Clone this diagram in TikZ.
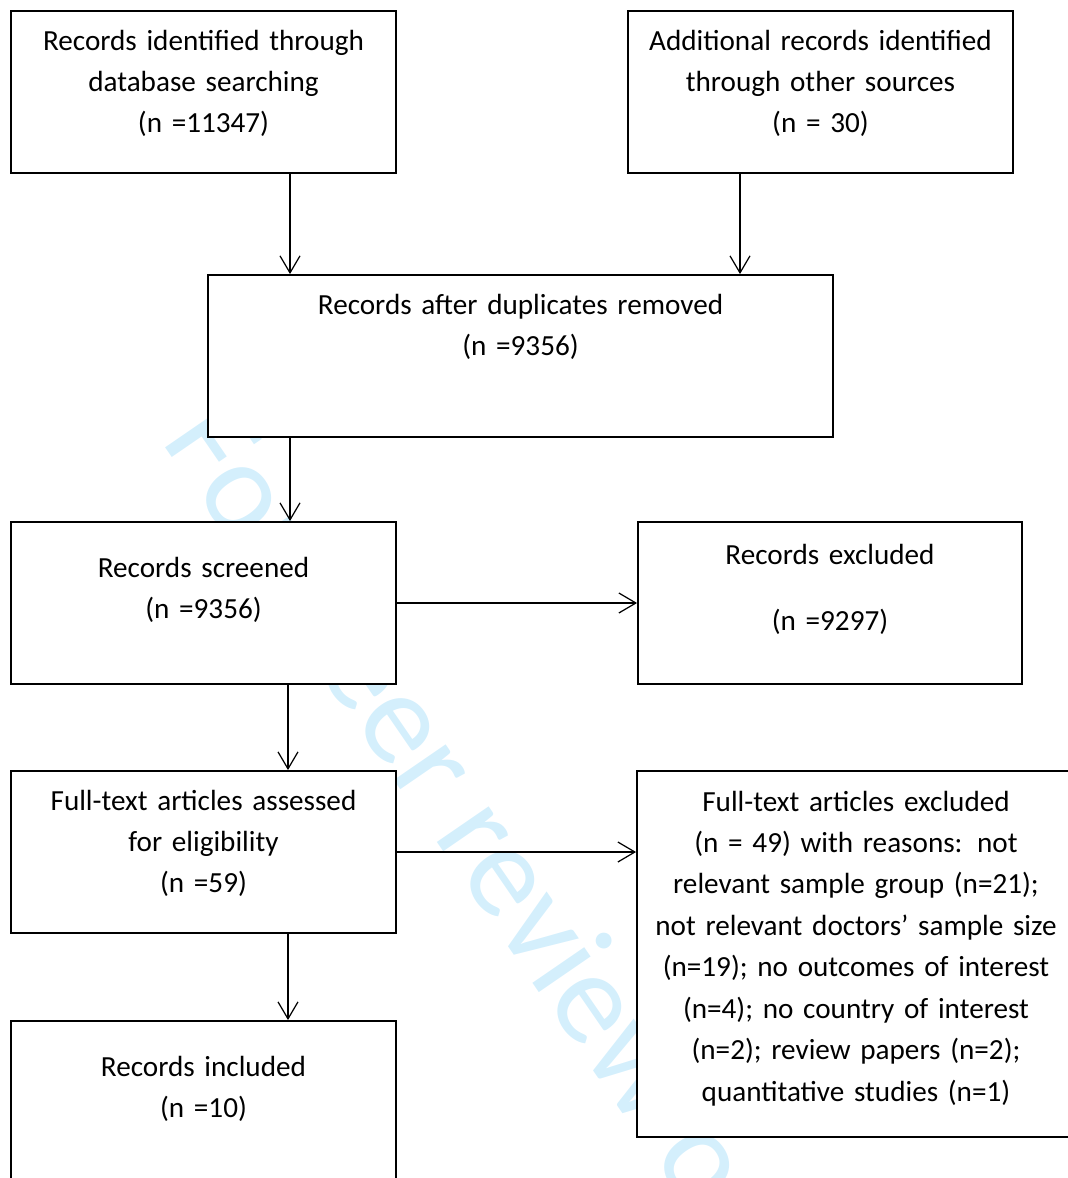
\documentclass[tikz,border=0pt]{standalone}
\usepackage{fontspec}
\setmainfont{Carlito}
\usepackage{xcolor}
\usepackage{tikz}
\usetikzlibrary{arrows.meta,positioning}
\definecolor{wmcyan}{HTML}{D4EFFC}
\newcommand{\bodyfont}{\fontsize{16.6}{23.6}\selectfont}
\newcommand{\wmfont}{\fontsize{75}{80}\selectfont}
\tikzset{
  box/.style={draw=black,line width=1.1pt,fill=white,inner xsep=0pt,inner ysep=0pt,
    text width=7.7cm,align=center,font=\bodyfont,text height=0.78cm,text depth=2.46cm},
  lowbox/.style={box,text height=1.1cm,text depth=2.14cm},
  flowarrow/.style={-{Straight Barb[length=3.4mm,width=4mm]},line width=0.7pt,draw=black},
  watermark/.style={text=wmcyan,font=\wmfont,rotate=-55.5,anchor=base west,inner sep=0pt}
}
\begin{document}
\begin{tikzpicture}[x=0.02cm,y=-0.02cm]
\useasboundingbox (0,0) rectangle (1068,1178);
\node[watermark] (wm) at (160,440) {For peer review only};
\node[box] (ident) at (203.5,92) {Records identified through\\database searching\\(n =11347)};
\node[box] (other) at (820.5,92) {Additional records identified\\through other sources\\(n = 30)};
\node[box,text width=12.5cm] (dedup) at (520.5,356) {Records after duplicates removed\\(n =9356)};
\node[lowbox] (screen) at (203.5,603) {Records screened\\(n =9356)};
\node[box,text width=7.68cm,text height=0.84cm,text depth=2.4cm] (excl) at (830,603) {Records excluded\\[14pt](n =9297)};
\node[box] (full) at (203.5,852) {Full-text articles assessed\\for eligibility\\(n =59)};
\node[box,text width=8.76cm,text height=0.8cm,text depth=6.52cm] (fullex) at (856,954) {Full-text articles excluded\\(n = 49) with reasons: not\\relevant sample group (n=21);\\not relevant doctors’ sample size\\(n=19); no outcomes of interest\\(n=4); no country of interest\\(n=2); review papers (n=2);\\quantitative studies (n=1)};
\node[lowbox] (incl) at (203.5,1102) {Records included\\(n =10)};
\coordinate (laneA) at (290,0);
\coordinate (laneB) at (740,0);
\coordinate (laneC) at (288,0);
\draw[flowarrow] (ident.south -| laneA) -- (dedup.north -| laneA);
\draw[flowarrow] (other.south -| laneB) -- (dedup.north -| laneB);
\draw[flowarrow] (dedup.south -| laneA) -- (screen.north -| laneA);
\draw[flowarrow] (screen.east) -- (excl.west);
\draw[flowarrow] (screen.south -| laneC) -- (full.north -| laneC);
\draw[flowarrow] (full.east) -- (full.east -| fullex.west);
\draw[flowarrow] (full.south -| laneC) -- (incl.north -| laneC);
\end{tikzpicture}
\end{document}
